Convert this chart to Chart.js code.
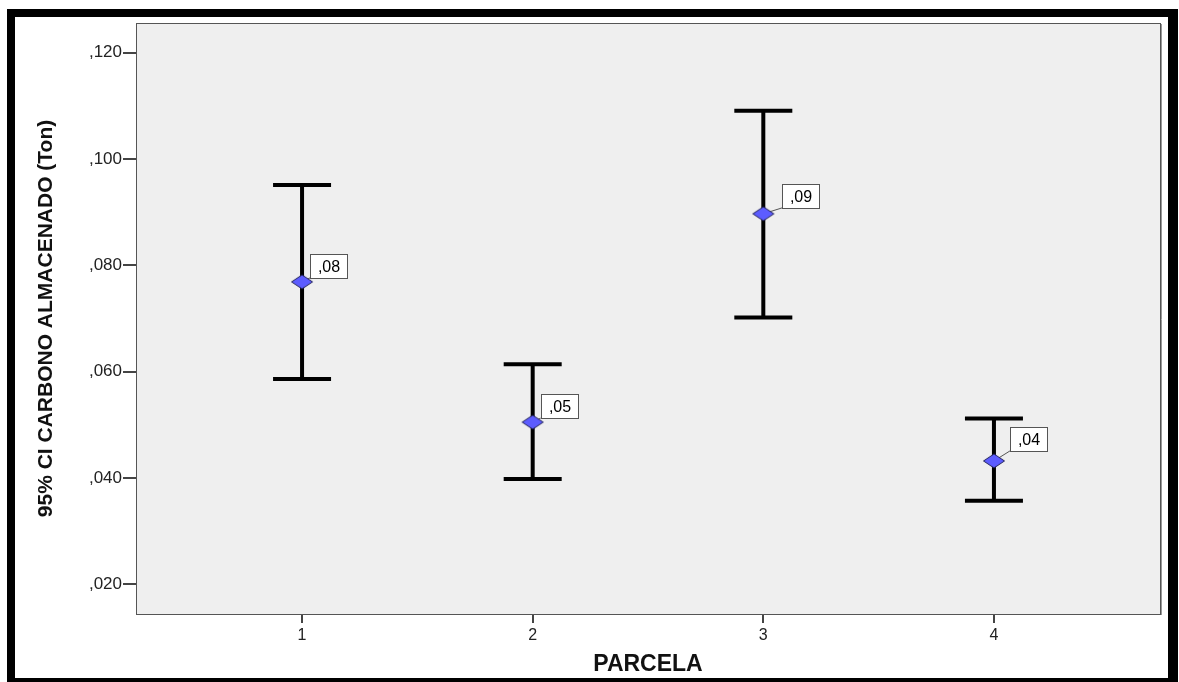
<!DOCTYPE html>
<html>
<head>
<meta charset="utf-8">
<script src="https://cdn.jsdelivr.net/npm/chart.js@4/dist/chart.umd.min.js"></script>
<style>
  html, body { margin: 0; padding: 0; background: #fff; }
  #wrap { width: 1179px; height: 682px; }
</style>
</head>
<body>
<div id="wrap"><canvas id="ci" width="1179" height="682"></canvas></div>
<script>
// values
const parcelas   = [1, 2, 3, 4];
const ciLower    = [0.0586, 0.0398, 0.0702, 0.0357];
const ciMean     = [0.0769, 0.0505, 0.0897, 0.0432];
const ciUpper    = [0.0951, 0.0614, 0.1091, 0.0512];
const yTickVals  = [0.02, 0.04, 0.06, 0.08, 0.10, 0.12];

const FONT = 'Arial, "Liberation Sans", sans-serif';

// spss style value: ,08 / ,120
function spss(v, d) {
    return v.toFixed(d).replace(/^0\./, ',');
}

// diamond marker (a bit flatter than a square)
function diamond() {
    const c = document.createElement('canvas');
    c.width = 24; c.height = 18;
    const g = c.getContext('2d');
    g.beginPath();
    g.moveTo(1.5, 9); g.lineTo(12, 2); g.lineTo(22.5, 9); g.lineTo(12, 16);
    g.closePath();
    g.fillStyle = '#5c5cff';
    g.fill();
    g.strokeStyle = '#22225a';
    g.lineWidth = 1;
    g.stroke();
    return c;
}

const errorBars = {
    id: 'errorBars',
    beforeDraw(chart) {
        const {ctx, chartArea: a} = chart;
        ctx.save();
        ctx.fillStyle = '#efefef';
        ctx.fillRect(a.left, a.top, a.right - a.left, a.bottom - a.top);
        ctx.restore();
    },
    beforeDatasetsDraw(chart, args, opts) {
        const {ctx, scales: {x, y}} = chart;
        ctx.save();
        ctx.strokeStyle = '#000';
        ctx.lineWidth = 4;
        ctx.lineCap = 'butt';
        parcelas.forEach((p, i) => {
            const px = x.getPixelForValue(p);
            const lo = y.getPixelForValue(ciLower[i]);
            const hi = y.getPixelForValue(ciUpper[i]);
            ctx.beginPath();
            ctx.moveTo(px, lo); ctx.lineTo(px, hi);
            ctx.moveTo(px - opts.cap, lo); ctx.lineTo(px + opts.cap, lo);
            ctx.moveTo(px - opts.cap, hi); ctx.lineTo(px + opts.cap, hi);
            ctx.stroke();
        });
        // leader lines to the value boxes
        ctx.strokeStyle = '#555';
        ctx.lineWidth = 1;
        parcelas.forEach((p, i) => {
            const px = x.getPixelForValue(p);
            const py = y.getPixelForValue(ciMean[i]);
            const off = opts.labelOffsets[i];
            ctx.beginPath();
            ctx.moveTo(px, py);
            ctx.lineTo(px + off[0], py + off[1]);
            ctx.stroke();
        });
        ctx.restore();
    },
    afterDatasetsDraw(chart, args, opts) {
        const {ctx, scales: {x, y}} = chart;
        ctx.save();
        ctx.font = '16px ' + FONT;
        ctx.textAlign = 'center';
        ctx.textBaseline = 'middle';
        parcelas.forEach((p, i) => {
            const px = x.getPixelForValue(p);
            const py = y.getPixelForValue(ciMean[i]);
            const off = opts.labelOffsets[i];
            const bx = Math.round(px + off[0]) + 0.5;
            const by = Math.round(py + off[1] - opts.boxH) + 0.5;
            ctx.fillStyle = '#fff';
            ctx.fillRect(bx, by, opts.boxW, opts.boxH);
            ctx.strokeStyle = '#555';
            ctx.lineWidth = 1;
            ctx.strokeRect(bx, by, opts.boxW, opts.boxH);
            ctx.fillStyle = '#000';
            ctx.fillText(spss(ciMean[i], 2), bx + opts.boxW / 2, by + opts.boxH / 2 + 1);
        });
        ctx.restore();
    },
    afterDraw(chart) {
        const {ctx, chartArea: a} = chart;
        ctx.save();
        // plot frame
        ctx.strokeStyle = '#555';
        ctx.lineWidth = 1;
        ctx.strokeRect(a.left + 0.5, a.top + 0.5, a.right - a.left, a.bottom - a.top);
        ctx.strokeStyle = '#999';
        ctx.beginPath();
        ctx.moveTo(a.right + 1.5, a.top + 1); ctx.lineTo(a.right + 1.5, a.bottom + 1);
        ctx.stroke();
        // outer black frame
        ctx.fillStyle = '#000';
        ctx.fillRect(7, 9, 1171, 8);
        ctx.fillRect(7, 9, 8, 673);
        ctx.fillRect(1168, 9, 10, 673);
        ctx.fillRect(7, 678, 1171, 4);
        ctx.restore();
    }
};

new Chart(document.getElementById('ci'), {
    type: 'scatter',
    data: {
        datasets: [{
            label: 'media',
            data: parcelas.map((p, i) => ({x: p, y: ciMean[i]})),
            pointStyle: diamond(),
            pointRadius: 10,
            pointHoverRadius: 10
        }]
    },
    options: {
        responsive: false,
        animation: false,
        devicePixelRatio: 1,
        layout: { padding: { left: 0, top: 23, right: 19, bottom: 0 } },
        plugins: {
            legend: { display: false },
            tooltip: { enabled: false },
            errorBars: {
                cap: 29,
                boxW: 37,
                boxH: 24,
                labelOffsets: [[8, -4], [8, -4], [19, -6], [16, -10]]
            }
        },
        scales: {
            x: {
                type: 'linear',
                min: 0.28,
                max: 4.72,
                afterBuildTicks: s => { s.ticks = parcelas.map(v => ({value: v})); },
                afterFit: s => { s.height = 68; },
                grid: { drawOnChartArea: false, drawTicks: true, tickLength: 9, color: '#444', lineWidth: 2 },
                border: { display: false },
                ticks: { color: '#222', padding: 3, font: { family: FONT, size: 16 }, callback: v => String(v) },
                title: {
                    display: true,
                    text: 'PARCELA',
                    color: '#111',
                    padding: { top: 0, bottom: 4 },
                    font: { family: FONT, size: 23, weight: 'bold' }
                }
            },
            y: {
                type: 'linear',
                min: 0.0144,
                max: 0.1256,
                afterBuildTicks: s => { s.ticks = yTickVals.map(v => ({value: v})); },
                afterFit: s => { s.width = 136; },
                grid: { drawOnChartArea: false, drawTicks: true, tickLength: 13, color: '#444', lineWidth: 2 },
                border: { display: false },
                ticks: { color: '#222', padding: 1, font: { family: FONT, size: 17 }, callback: v => spss(v, 3) },
                title: {
                    display: true,
                    text: '95% CI CARBONO ALMACENADO (Ton)',
                    color: '#111',
                    padding: { top: 34, bottom: 0 },
                    font: { family: FONT, size: 21, weight: 'bold' }
                }
            }
        }
    },
    plugins: [errorBars]
});
</script>
</body>
</html>
